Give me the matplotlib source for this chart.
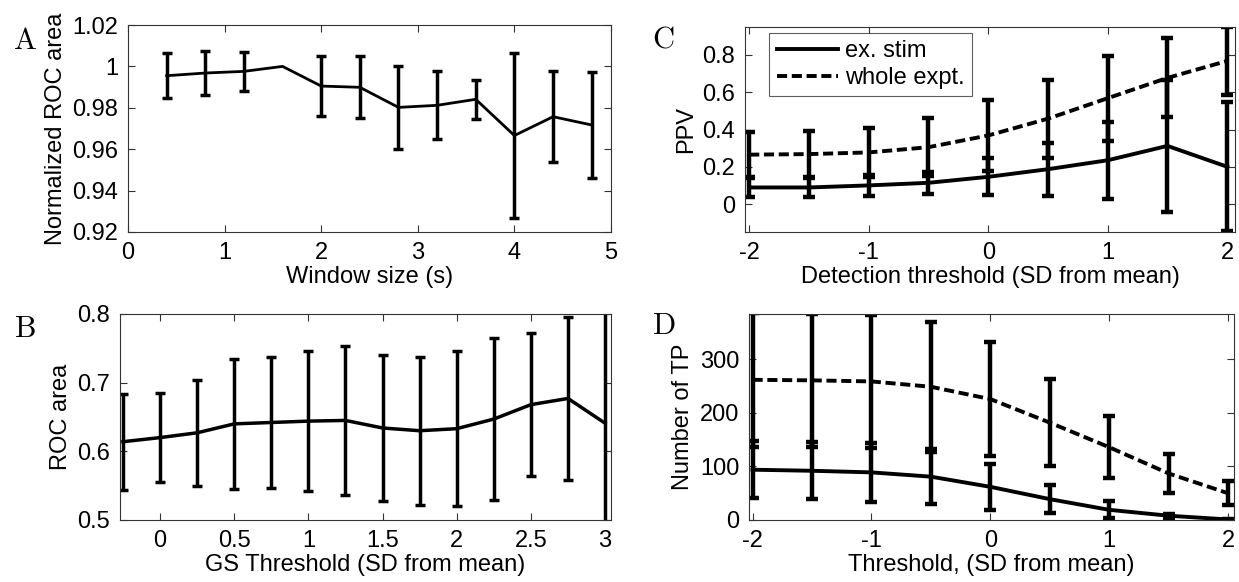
import numpy as np
import matplotlib.pyplot as plt

plt.rcParams['font.family'] = ['Liberation Sans', 'DejaVu Sans']
plt.rcParams['mathtext.fontset'] = 'cm'
plt.rcParams['axes.unicode_minus'] = False

# A: window size
win_x = [0.4, 0.8, 1.2, 1.6, 2.0, 2.4, 2.8, 3.2, 3.6, 4.0, 4.4, 4.8]
win_y = [0.9955, 0.9968, 0.9976, 1.0, 0.9905, 0.9899, 0.9802, 0.9812, 0.9841, 0.9666, 0.9757, 0.9717]
win_err = [0.011, 0.0105, 0.0094, np.nan, 0.0145, 0.015, 0.020, 0.0165, 0.0095, 0.0397, 0.0219, 0.0257]

# B: GS threshold
gs_x = [-0.25, 0, 0.25, 0.5, 0.75, 1.0, 1.25, 1.5, 1.75, 2.0, 2.25, 2.5, 2.75, 3.0]
gs_y = [0.614, 0.620, 0.627, 0.640, 0.642, 0.644, 0.645, 0.634, 0.630, 0.633, 0.647, 0.668, 0.677, 0.641]
gs_err = [0.070, 0.065, 0.077, 0.095, 0.095, 0.102, 0.108, 0.107, 0.108, 0.113, 0.118, 0.104, 0.119, 0.25]

# C/D: detection threshold
thr = [-2, -1.5, -1, -0.5, 0, 0.5, 1, 1.5, 2]
ppv_stim = [0.089, 0.089, 0.100, 0.114, 0.146, 0.187, 0.235, 0.312, 0.200]
ppv_stim_err = [0.053, 0.053, 0.055, 0.060, 0.100, 0.142, 0.207, 0.353, 0.345]
ppv_whole = [0.265, 0.268, 0.277, 0.305, 0.368, 0.458, 0.568, 0.677, 0.768]
ppv_whole_err = [0.122, 0.122, 0.133, 0.155, 0.188, 0.210, 0.228, 0.212, 0.182]

tp_stim = [94, 92, 89, 81, 62, 39, 19, 8, 1]
tp_stim_err = [53, 53, 55, 51, 43, 26, 16, 4, 1.5]
tp_whole = [262, 261, 259, 249, 226, 182, 136, 87, 50]
tp_whole_err = [125, 124, 125, 121, 107, 82, 58, 37, 22]

W, H = 1239, 582
fig = plt.figure(figsize=(W / 100, H / 100), dpi=100)


def box(l, t, r, b):
    return [l / W, 1 - b / H, (r - l) / W, (b - t) / H]


def style(ax):
    ax.tick_params(direction='in', length=5, width=0.8, top=True, right=True,
                   labelsize=17, pad=7, color='#333333')
    for s in ax.spines.values():
        s.set_linewidth(0.8)
        s.set_color('#333333')


axA = fig.add_axes(box(128, 25, 611, 232))
axA.errorbar(win_x, win_y, yerr=win_err, color='k', lw=2, elinewidth=2.5,
             capsize=3.5, capthick=2.5)
axA.set_xlim(0, 5)
axA.set_ylim(0.92, 1.02)
axA.set_xticks([0, 1, 2, 3, 4, 5])
axA.set_yticks([0.92, 0.94, 0.96, 0.98, 1.0, 1.02])
axA.set_yticklabels(['0.92', '0.94', '0.96', '0.98', '1', '1.02'])
axA.set_xlabel('Window size (s)', fontsize=17, labelpad=2)
axA.set_ylabel('Normalized ROC area', fontsize=17, labelpad=4)
style(axA)

axB = fig.add_axes(box(120, 314, 611, 520))
axB.errorbar(gs_x, gs_y, yerr=gs_err, color='k', lw=2.5, elinewidth=2.5,
             capsize=3.5, capthick=2.5)
axB.set_xlim(-0.27, 3.04)
axB.set_ylim(0.5, 0.8)
axB.set_xticks([0, 0.5, 1, 1.5, 2, 2.5, 3])
axB.set_xticklabels(['0', '0.5', '1', '1.5', '2', '2.5', '3'])
axB.set_yticks([0.5, 0.6, 0.7, 0.8])
axB.set_xlabel('GS Threshold (SD from mean)', fontsize=17, labelpad=2)
axB.set_ylabel('ROC area', fontsize=17, labelpad=4)
style(axB)

axC = fig.add_axes(box(745, 27, 1235, 232))
axC.errorbar(thr, ppv_stim, yerr=ppv_stim_err, color='k', lw=2.8, elinewidth=3.2,
             capsize=4, capthick=3.2, label='ex. stim')
axC.errorbar(thr, ppv_whole, yerr=ppv_whole_err, color='k', lw=2.8, ls='--',
             dashes=(2.6, 1.2), elinewidth=3.2, capsize=4, capthick=3.2,
             label='whole expt.')
axC.set_xlim(-2.035, 2.065)
axC.set_ylim(-0.15, 0.95)
axC.set_xticks([-2, -1, 0, 1, 2])
axC.set_yticks([0, 0.2, 0.4, 0.6, 0.8])
axC.set_yticklabels(['0', '0.2', '0.4', '0.6', '0.8'])
axC.set_xlabel('Detection threshold (SD from mean)', fontsize=17, labelpad=2)
axC.set_ylabel('PPV', fontsize=17, labelpad=4)
style(axC)
h, l = axC.get_legend_handles_labels()
h = [x[0] for x in h]
leg = axC.legend(h, l, loc='upper left', bbox_to_anchor=(0.05, 0.97), fontsize=17,
                 frameon=True, fancybox=False, handlelength=2.6, handletextpad=0.3,
                 borderpad=0.3, labelspacing=0.2, borderaxespad=0)
leg.get_frame().set_edgecolor('#333333')
leg.get_frame().set_linewidth(0.8)

axD = fig.add_axes(box(749, 314, 1234, 520))
axD.errorbar(thr, tp_stim, yerr=tp_stim_err, color='k', lw=2.8, elinewidth=3.2,
             capsize=4, capthick=3.2)
axD.errorbar(thr, tp_whole, yerr=tp_whole_err, color='k', lw=2.8, ls='--',
             dashes=(2.6, 1.2), elinewidth=3.2, capsize=4, capthick=3.2)
axD.set_xlim(-2.03, 2.05)
axD.set_ylim(0, 385)
axD.set_xticks([-2, -1, 0, 1, 2])
axD.set_yticks([0, 100, 200, 300])
axD.set_xlabel('Threshold, (SD from mean)', fontsize=17, labelpad=2)
axD.set_ylabel('Number of TP', fontsize=17, labelpad=4)
style(axD)

for letter, x, y in [('A', 13, 26), ('B', 14, 314), ('C', 652, 24), ('D', 652, 311)]:
    fig.text(x / W, 1 - y / H, r'$\mathrm{%s}$' % letter, fontsize=22, va='top', ha='left')

fig.savefig('out.png', dpi=100)
